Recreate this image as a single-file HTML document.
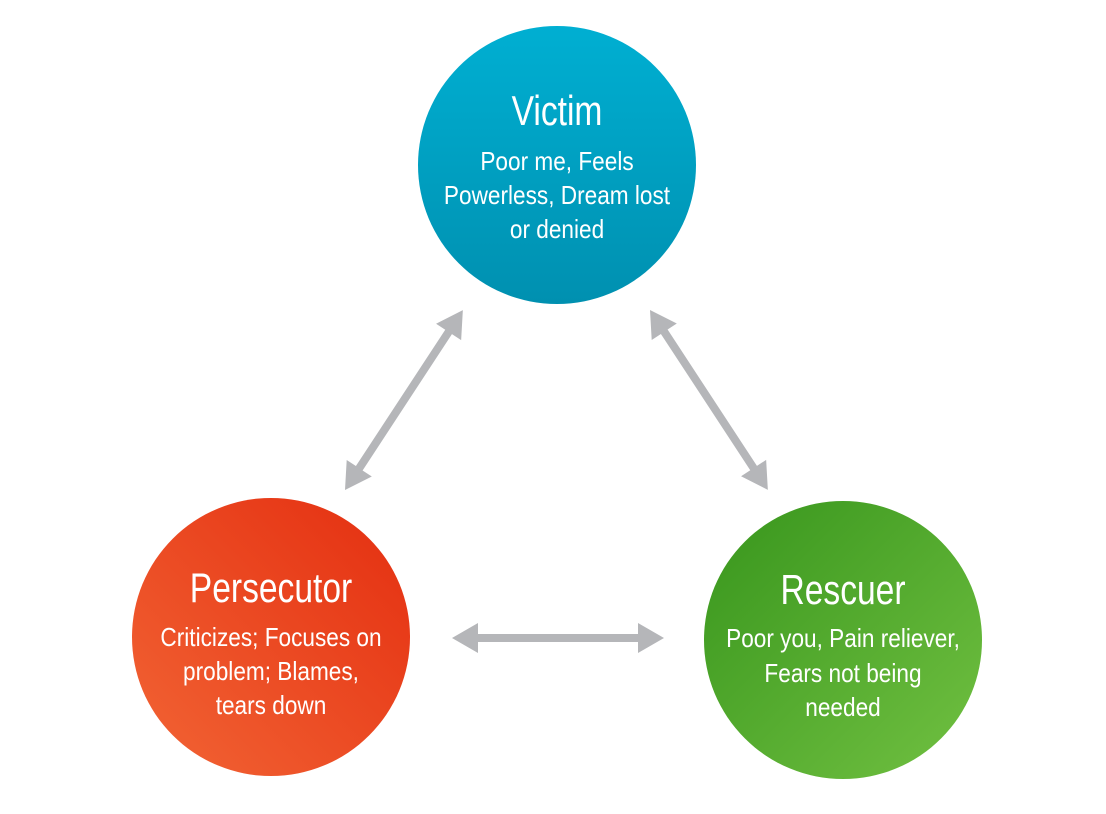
<!DOCTYPE html>
<html><head><meta charset="utf-8"><style>
html,body{margin:0;padding:0;background:#fff;}
svg{display:block}
text{font-family:"Liberation Sans Narrow","Liberation Sans",sans-serif;fill:#fff;text-anchor:middle}
</style></head><body>
<svg width="1106" height="814" viewBox="0 0 1106 814">
<defs>
<linearGradient id="gv" x1="0" y1="0" x2="0" y2="1"><stop offset="0" stop-color="#00afd2"/><stop offset="1" stop-color="#0090b0"/></linearGradient>
<linearGradient id="gp" x1="1" y1="0" x2="0" y2="1"><stop offset="0" stop-color="#e42e10"/><stop offset="1" stop-color="#f26535"/></linearGradient>
<linearGradient id="gr" x1="0" y1="0" x2="1" y2="1"><stop offset="0" stop-color="#37951c"/><stop offset="1" stop-color="#72c142"/></linearGradient>
</defs>
<g fill="#b5b6b9">
<path transform="translate(345,490) rotate(-56.76)" d="M0,0 L26,-15 L26,-4 L189,-4 L189,-15 L215,0 L189,15 L189,4 L26,4 L26,15 Z"/>
<path transform="translate(650,310) rotate(56.76)" d="M0,0 L26,-15 L26,-4 L189,-4 L189,-15 L215,0 L189,15 L189,4 L26,4 L26,15 Z"/>
<path transform="translate(452,638)" d="M0,0 L26,-15 L26,-4 L186,-4 L186,-15 L212,0 L186,15 L186,4 L26,4 L26,15 Z"/>
</g>
<circle cx="557" cy="165" r="139" fill="url(#gv)"/>
<circle cx="271" cy="637" r="139" fill="url(#gp)"/>
<circle cx="843" cy="640" r="139" fill="url(#gr)"/>
<g transform="translate(557,0) scale(0.8,1)"><text x="0" y="125" font-size="42">Victim</text></g>
<g transform="translate(557,0) scale(0.87,1)">
<text x="0" y="170" font-size="26">Poor me, Feels</text>
<text x="0" y="204" font-size="26">Powerless, Dream lost</text>
<text x="0" y="238" font-size="26">or denied</text>
</g>
<g transform="translate(271,0) scale(0.8,1)"><text x="0" y="602" font-size="42">Persecutor</text></g>
<g transform="translate(271,0) scale(0.87,1)">
<text x="0" y="646" font-size="26">Criticizes; Focuses on</text>
<text x="0" y="680" font-size="26">problem; Blames,</text>
<text x="0" y="714" font-size="26">tears down</text>
</g>
<g transform="translate(843,0) scale(0.8,1)"><text x="0" y="604" font-size="42">Rescuer</text></g>
<g transform="translate(843,0) scale(0.87,1)">
<text x="0" y="647" font-size="26">Poor you, Pain reliever,</text>
<text x="0" y="682" font-size="26">Fears not being</text>
<text x="0" y="716" font-size="26">needed</text>
</g>
</svg>
</body></html>
